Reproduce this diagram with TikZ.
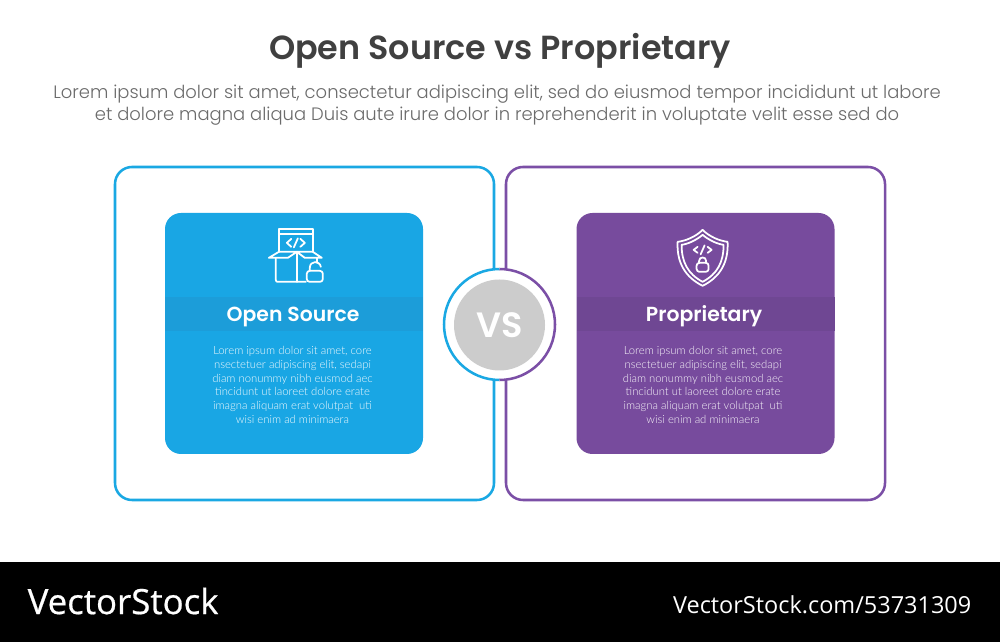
\documentclass[tikz,border=0pt]{standalone}
\usepackage{fontspec}
\setmainfont{Poppins Light}[BoldFont={Poppins SemiBold}]
\newfontfamily\bodyfont{Lato Light}
\newfontfamily\markfont{Open Sans}
\newfontfamily\brandfont{Open Sans}[FakeBold=0.6]
\usetikzlibrary{positioning}
\definecolor{srcblue}{HTML}{19A6E4}
\definecolor{srcband}{HTML}{1C9DD9}
\definecolor{proppurple}{HTML}{774B9D}
\definecolor{propband}{HTML}{6F4793}
\definecolor{ringblue}{HTML}{1AA8E3}
\definecolor{ringpurple}{HTML}{7B4FA6}
\newcommand{\loremtext}{Lorem ipsum dolor sit amet, core\\nsectetuer adipiscing elit, sedapi\\diam nonummy nibh eusmod aec\\tincidunt ut laoreet dolore erate\\imagna aliquam erat volutpat\ \ uti\\wisi enim ad minimaera}
\begin{document}
\begin{tikzpicture}[y=-1cm,
  outerbox/.style={draw, line width=.72pt, rounded corners=.17cm, minimum width=3.79cm, minimum height=3.33cm, inner sep=0pt},
  card/.style={rounded corners=.16cm, minimum width=2.58cm, minimum height=2.41cm, inner sep=0pt},
  band/.style={minimum width=2.58cm, minimum height=.34cm, inner sep=0pt},
  head/.style={text=white, font=\fontsize{5.8}{7}\selectfont\bfseries},
  lorem/.style={text=white, opacity=.95, align=center, font=\bodyfont\fontsize{3.21}{3.93}\selectfont},
  icon/.style={draw=white, line width=.5pt, line cap=round, line join=round},
  px/.style={x=.01cm, y=-.01cm}]
  \useasboundingbox (0,0) rectangle (10,6.42);
  \fill[white] (0,0) rectangle (10,6.42);

  \node[text=black!75, font=\fontsize{9.5}{11}\selectfont\bfseries] (title) at (5,.505) {Open Source vs Proprietary};
  \node[text=black!58, font=\fontsize{5.11}{6.3}\selectfont, align=center] (subtitle) at (4.97,1.055) {Lorem ipsum dolor sit amet, consectetur adipiscing elit, sed do eiusmod tempor incididunt ut labore\\et dolore magna aliqua Duis aute irure dolor in reprehenderit in voluptate velit esse sed do};

  \node[outerbox, draw=ringblue] (leftbox) at (3.045,3.335) {};
  \node[outerbox, draw=ringpurple] (rightbox) at (6.955,3.335) {};

  \node[card, fill=srcblue] (leftcard) at (2.94,3.335) {};
  \node[card, fill=proppurple] (rightcard) at (7.055,3.335) {};
  \node[band, fill=srcband] (leftband) at (2.94,3.14) {};
  \node[band, fill=propband] (rightband) at (7.055,3.14) {};
  \node[head] (lefthead) at (2.93,3.165) {Open Source};
  \node[head] (righthead) at (7.04,3.165) {Proprietary};
  \node[lorem] (leftlorem) at (2.925,3.85) {\loremtext};
  \node[lorem] (rightlorem) at (7.03,3.85) {\loremtext};

  % vs badge
  \node[circle, fill=white, minimum size=1.12cm, inner sep=0pt] (badge) at (4.995,3.25) {};
  \draw[ringblue, line width=.72pt] (4.995,2.69) arc[start angle=90, end angle=270, radius=.555cm];
  \draw[ringpurple, line width=.72pt] (4.995,2.69) arc[start angle=90, end angle=-90, radius=.555cm];
  \node[circle, fill=black!20, minimum size=.91cm, inner sep=0pt, text=white, font=\fontsize{10}{12}\selectfont\bfseries] (vs) at (4.995,3.25) {VS};

  % box icon
  \begin{scope}[px]
    \draw[icon] (279,252) -- (279,229) -- (313,229) -- (313,252);
    \draw[icon] (279,234) -- (313,234);
    \draw[icon] (291.5,239) -- (287,243) -- (291.5,247);
    \draw[icon] (300.5,239) -- (305,243) -- (300.5,247);
    \draw[icon] (298,238.5) -- (294,247.5);
    \draw[icon] (297,252) -- (279,252) -- (269,258) -- (288,258) -- (297,252) -- (305,258) -- (322,258) -- (313,252) -- (297,252);
    \draw[icon] (276,258) -- (276,280) .. controls (276,281.5) and (276.5,282) .. (278,282) -- (306,282);
    \draw[icon] (297,252) -- (297,282);
    \draw[icon] (317,258) -- (317,262);
    \draw[icon, rounded corners=.8pt] (307,271) rectangle (323,282);
    \draw[icon] (310,271) -- (310,268) .. controls (310,260.5) and (320,260.5) .. (321,267);
  \end{scope}
  % shield icon
  \begin{scope}[px]
    \draw[icon] (703,230) .. controls (710,237) and (720,241) .. (728,242) .. controls (729,262) and (721,277) .. (703,286) .. controls (685,277) and (677,262) .. (678,242) .. controls (686,241) and (696,237) .. (703,230) -- cycle;
    \draw[icon] (703,235) .. controls (709,240) and (717,244) .. (724,245) .. controls (724,262) and (718,274) .. (703,282) .. controls (688,274) and (682,262) .. (682,245) .. controls (689,244) and (697,240) .. (703,235) -- cycle;
    \draw[icon] (698,247) -- (694,250) -- (698,253);
    \draw[icon] (708,247) -- (712,250) -- (708,253);
    \draw[icon] (705,245.5) -- (701,254.5);
    \draw[icon, rounded corners=.8pt] (697,263) rectangle (709,272);
    \draw[icon] (699.5,263) -- (699.5,261) .. controls (699.5,256.5) and (706.5,256.5) .. (706.5,261) -- (706.5,263);
  \end{scope}

  \fill[black] (0,5.62) rectangle (10,6.42);
  \node[text=white, anchor=west, inner sep=0pt, font=\brandfont\fontsize{9.9}{11}\selectfont] (brand) at (.27,6.01) {VectorStock};
  \node[text=white, anchor=east, inner sep=0pt, font=\markfont\fontsize{6.68}{8}\selectfont] (brandurl) at (9.72,6.05) {VectorStock.com/53731309};
\end{tikzpicture}
\end{document}
